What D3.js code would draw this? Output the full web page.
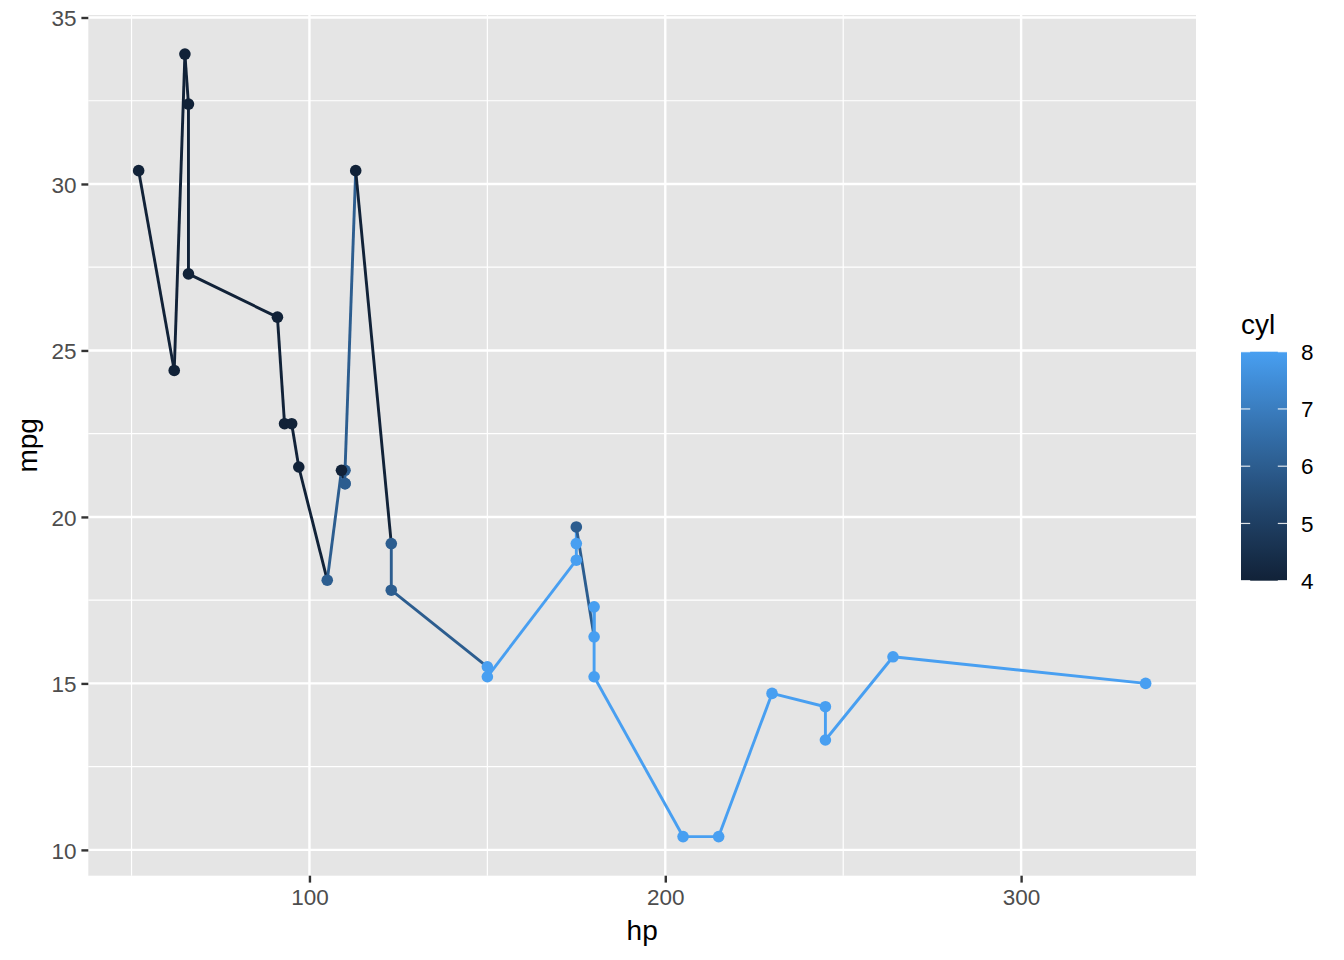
<!DOCTYPE html>
<html>
<head>
<meta charset="utf-8">
<script src="https://cdn.jsdelivr.net/npm/d3@7"></script>
<style>
  html, body { margin: 0; padding: 0; background: #ffffff; }
  svg { display: block; font-family: "Liberation Sans", Arial, Helvetica, sans-serif; }
</style>
</head>
<body>
<svg id="chart" width="1344" height="960"></svg>
<script>
// mtcars: hp, mpg, cyl (data order)
const cars = ["Mazda RX4","Mazda RX4 Wag","Datsun 710","Hornet 4 Drive","Hornet Sportabout","Valiant","Duster 360","Merc 240D","Merc 230","Merc 280","Merc 280C","Merc 450SE","Merc 450SL","Merc 450SLC","Cadillac Fleetwood","Lincoln Continental","Chrysler Imperial","Fiat 128","Honda Civic","Toyota Corolla","Toyota Corona","Dodge Challenger","AMC Javelin","Camaro Z28","Pontiac Firebird","Fiat X1-9","Porsche 914-2","Lotus Europa","Ford Pantera L","Ferrari Dino","Maserati Bora","Volvo 142E"];
const hp  = [110,110,93,110,175,105,245,62,95,123,123,180,180,180,205,215,230,66,52,65,97,150,150,245,175,66,91,113,264,175,335,109];
const mpg = [21.0,21.0,22.8,21.4,18.7,18.1,14.3,24.4,22.8,19.2,17.8,16.4,17.3,15.2,10.4,10.4,14.7,32.4,30.4,33.9,21.5,15.5,15.2,13.3,19.2,27.3,26.0,30.4,15.8,19.7,15.0,21.4];
const cyl = [6,6,4,6,8,6,8,4,4,6,6,8,8,8,8,8,8,4,4,4,4,8,8,8,8,4,4,4,8,6,8,4];

const xMajor = [100, 200, 300];
const xMinor = [50, 150, 250];
const yMajor = [10, 15, 20, 25, 30, 35];
const yMinor = [12.5, 17.5, 22.5, 27.5, 32.5];
const legendTicks = [4, 5, 6, 7, 8];

const data = cars.map((name, i) => ({ name, hp: hp[i], mpg: mpg[i], cyl: cyl[i], idx: i }));

const svg = d3.select("#chart");
const panel = { left: 88.3, right: 1196, top: 15, bottom: 875.7 };

function expand(ext, f) { const d = (ext[1] - ext[0]) * f; return [ext[0] - d, ext[1] + d]; }
const x = d3.scaleLinear().domain(expand(d3.extent(hp), 0.05)).range([panel.left, panel.right]);
const y = d3.scaleLinear().domain(expand(d3.extent(mpg), 0.05)).range([panel.bottom, panel.top]);
const color = d3.scaleLinear().domain([4, 8]).range(["#112238", "#489FF1"]).interpolate(d3.interpolateLab);

// panel background
svg.append("rect").attr("x", panel.left).attr("y", panel.top)
  .attr("width", panel.right - panel.left).attr("height", panel.bottom - panel.top)
  .attr("fill", "#E5E5E5");

const grid = svg.append("g");
grid.selectAll(".xmin").data(xMinor).join("line")
  .attr("x1", d => x(d)).attr("x2", d => x(d)).attr("y1", panel.top).attr("y2", panel.bottom)
  .attr("stroke", "#fff").attr("stroke-width", 1.2);
grid.selectAll(".ymin").data(yMinor).join("line")
  .attr("y1", d => y(d)).attr("y2", d => y(d)).attr("x1", panel.left).attr("x2", panel.right)
  .attr("stroke", "#fff").attr("stroke-width", 1.2);
grid.selectAll(".xmaj").data(xMajor).join("line")
  .attr("x1", d => x(d)).attr("x2", d => x(d)).attr("y1", panel.top).attr("y2", panel.bottom)
  .attr("stroke", "#fff").attr("stroke-width", 2.4);
grid.selectAll(".ymaj").data(yMajor).join("line")
  .attr("y1", d => y(d)).attr("y2", d => y(d)).attr("x1", panel.left).attr("x2", panel.right)
  .attr("stroke", "#fff").attr("stroke-width", 2.4);

// line sorted by hp (stable), segments coloured by starting point
const sorted = data.slice().sort((a, b) => a.hp - b.hp || a.idx - b.idx);
const segs = d3.pairs(sorted);
svg.append("g").selectAll("line").data(segs).join("line")
  .attr("x1", d => x(d[0].hp)).attr("y1", d => y(d[0].mpg))
  .attr("x2", d => x(d[1].hp)).attr("y2", d => y(d[1].mpg))
  .attr("stroke", d => color(d[0].cyl)).attr("stroke-width", 2.9)
  .attr("stroke-linecap", "butt");

svg.append("g").selectAll("circle").data(data).join("circle")
  .attr("cx", d => x(d.hp)).attr("cy", d => y(d.mpg)).attr("r", 5.8)
  .attr("fill", d => color(d.cyl));

// axes
const xAxis = d3.axisBottom(x).tickValues(xMajor).tickSize(6.9).tickPadding(5);
const gx = svg.append("g").attr("transform", `translate(0,${panel.bottom})`).call(xAxis);
gx.select(".domain").remove();
gx.selectAll(".tick line").attr("stroke", "#333333").attr("stroke-width", 2.4);
gx.selectAll(".tick text").attr("fill", "#4D4D4D").attr("font-size", 22.5).attr("dy", "0.78em");

const yAxis = d3.axisLeft(y).tickValues(yMajor).tickSize(6.9).tickPadding(5);
const gy = svg.append("g").attr("transform", `translate(${panel.left},0)`).call(yAxis);
gy.select(".domain").remove();
gy.selectAll(".tick line").attr("stroke", "#333333").attr("stroke-width", 2.4);
gy.selectAll(".tick text").attr("fill", "#4D4D4D").attr("font-size", 22.5).attr("dy", "0.36em");

svg.append("text").attr("x", (panel.left + panel.right) / 2).attr("y", 940)
  .attr("text-anchor", "middle").attr("font-size", 28).attr("fill", "#000").text("hp");
svg.append("text").attr("transform", `translate(37,${(panel.top + panel.bottom) / 2}) rotate(-90)`)
  .attr("text-anchor", "middle").attr("font-size", 28).attr("fill", "#000").text("mpg");

// legend colourbar
const leg = { x: 1241, w: 46, top: 351.7, bottom: 580.7 };
const ly = d3.scaleLinear().domain([4, 8]).range([leg.bottom, leg.top]);
const defs = svg.append("defs");
const grad = defs.append("linearGradient").attr("id", "cbar")
  .attr("x1", 0).attr("y1", 1).attr("x2", 0).attr("y2", 0);
d3.range(0, 1.0001, 0.05).forEach(t => {
  grad.append("stop").attr("offset", t).attr("stop-color", color(4 + 4 * t));
});
svg.append("text").attr("x", leg.x).attr("y", 334).attr("font-size", 28).attr("fill", "#000").text("cyl");
svg.append("rect").attr("x", leg.x).attr("y", leg.top).attr("width", leg.w)
  .attr("height", leg.bottom - leg.top).attr("fill", "url(#cbar)");
const lt = svg.append("g");
lt.selectAll(".tl").data(legendTicks).join("line")
  .attr("x1", leg.x).attr("x2", leg.x + 9.2).attr("y1", d => ly(d)).attr("y2", d => ly(d))
  .attr("stroke", "#fff").attr("stroke-width", 1.2).attr("opacity", 0.85);
lt.selectAll(".tr").data(legendTicks).join("line")
  .attr("x1", leg.x + leg.w - 9.2).attr("x2", leg.x + leg.w).attr("y1", d => ly(d)).attr("y2", d => ly(d))
  .attr("stroke", "#fff").attr("stroke-width", 1.2).attr("opacity", 0.85);
lt.selectAll("text").data(legendTicks).join("text")
  .attr("x", 1301).attr("y", d => ly(d)).attr("dy", "0.36em")
  .attr("font-size", 22.5).attr("fill", "#000").text(d => d);
</script>
</body>
</html>
